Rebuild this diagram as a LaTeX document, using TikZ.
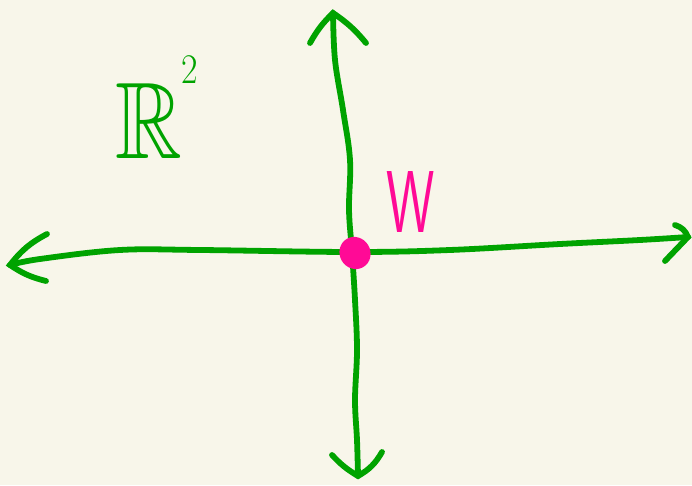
\documentclass[tikz,border=0pt]{standalone}
\usepackage{amsmath,amssymb}
\usepackage{tikz}
\usetikzlibrary{positioning}
\definecolor{Paper}{HTML}{F8F6EA}
\definecolor{Leaf}{HTML}{00A300}
\definecolor{Pink}{HTML}{FF0A96}
\tikzset{
  axis/.style={draw=Leaf,line width=3.3pt,line cap=round,line join=round},
  barb/.style={draw=Leaf,line width=3.3pt,line cap=round},
  origin/.style={draw=Pink,fill=Pink,line width=1.5pt},
  spacelabel/.style={text=Leaf,inner sep=0pt,font=\fontsize{62}{62}\selectfont,xscale=.85},
  pointlabel/.style={text=Pink,inner sep=0pt,font=\fontsize{50}{50}\selectfont\sffamily,xscale=.62}
}
\begin{document}
\begin{tikzpicture}
  \fill[Paper] (0,0) rectangle (13.84,9.7);
  \useasboundingbox (0,0) rectangle (13.84,9.7);
  % ends of the axes
  \coordinate (o) at (7.04,4.66);
  \coordinate (xl) at (0.20,4.40);
  \coordinate (xr) at (13.76,4.96);
  \coordinate (yt) at (6.66,9.44);
  \coordinate (yb) at (7.16,0.18);
  % horizontal axis
  \draw[axis] plot[smooth,tension=.6] coordinates {(xl) (0.80,4.52) (2.40,4.70) (4.00,4.70) (o) (9.00,4.70) (11.20,4.82) (12.80,4.90) (xr)};
  \draw[barb] (0.94,5.02) to[bend right=12] (xl) to[bend right=10] (0.92,4.08);
  \draw[barb] (13.50,5.20) to[bend left=25] (xr) -- (13.30,4.48);
  % vertical axis
  \draw[axis] plot[smooth,tension=.6] coordinates {(yt) (6.70,8.50) (6.86,7.50) (7.00,6.50) (6.98,5.50) (o) (7.10,3.70) (7.14,2.70) (7.10,1.70) (7.14,0.90) (yb)};
  \draw[barb] (6.20,8.84) to[bend left=8] (yt) to[bend left=8] (7.32,8.84);
  \draw[barb] (6.64,0.60) to[bend right=8] (yb) to[bend right=15] (7.64,0.66);
  % the point
  \draw[origin,rotate around={30:(7.10,4.64)}] (7.10,4.64) ellipse (0.28 and 0.30);
  \node[pointlabel] (w) at (8.22,5.66) {W};
  \node[spacelabel,anchor=base west] (plane) at (2.30,6.52) {$\mathbb{R}$\hspace{-.02cm}\raisebox{1.5cm}{\fontsize{24}{24}\selectfont 2}};
\end{tikzpicture}
\end{document}
